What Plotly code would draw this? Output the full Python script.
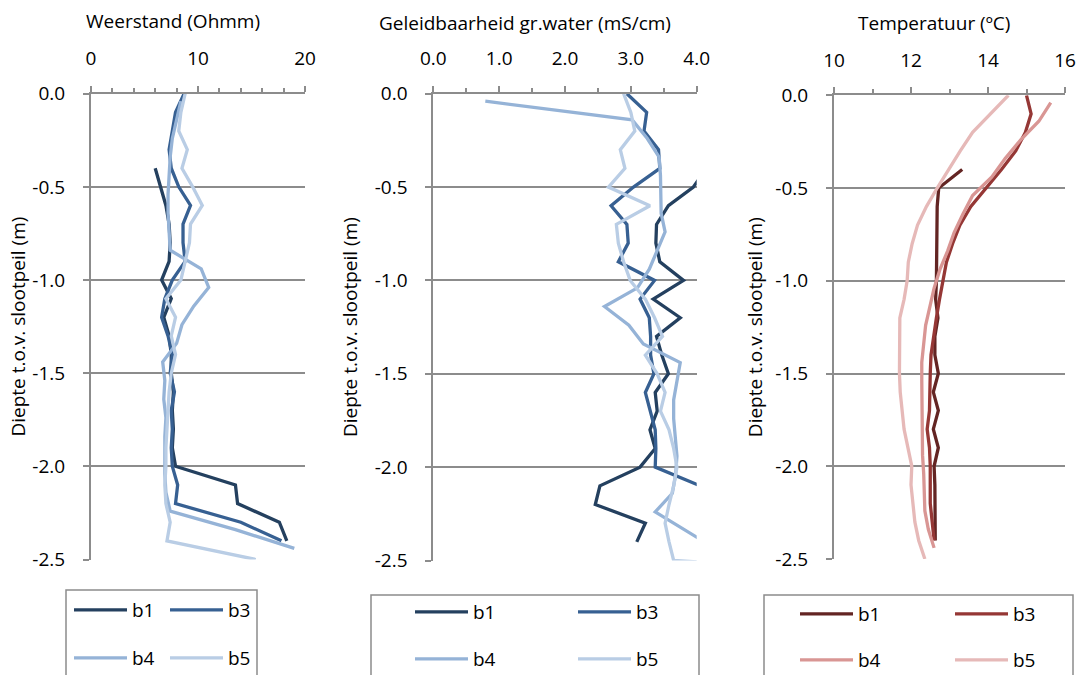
import plotly.graph_objects as go

# ---------------- data ----------------
DEPTH_B1 = [-0.4, -0.5, -0.6, -0.7, -0.8, -0.9, -1.0, -1.1, -1.2, -1.3, -1.4, -1.5, -1.6,
            -1.7, -1.8, -1.9, -2.0, -2.1, -2.2, -2.3, -2.4]
DEPTH_B3 = [0.0, -0.1, -0.2, -0.3, -0.4, -0.5, -0.6, -0.7, -0.8, -0.9, -1.0, -1.1, -1.2,
            -1.3, -1.4, -1.5, -1.6, -1.7, -1.8, -1.9, -2.0, -2.1, -2.2, -2.3, -2.4]
DEPTH_B4 = [-0.04, -0.14, -0.24, -0.34, -0.44, -0.54, -0.64, -0.74, -0.84, -0.94, -1.04,
            -1.14, -1.24, -1.34, -1.44, -1.54, -1.64, -1.74, -1.84, -1.94, -2.04, -2.14,
            -2.24, -2.34, -2.44]
DEPTH_B5 = [0.0, -0.1, -0.2, -0.3, -0.4, -0.5, -0.6, -0.7, -0.8, -0.9, -1.0, -1.1, -1.2,
            -1.3, -1.4, -1.5, -1.6, -1.7, -1.8, -1.9, -2.0, -2.1, -2.2, -2.3, -2.4, -2.5]
DEPTH_B5_GELEID = [0.0, -0.1, -0.2, -0.3, -0.4, -0.5, -0.6, -0.7, -0.8, -0.9, -1.0, -1.1,
                   -1.2, -1.3, -1.4, -1.5, -1.6, -1.7, -1.8, -1.9, -2.0, -2.1, -2.2, -2.3,
                   -2.4, -2.5, -2.52]

WEERSTAND_B1 = [6.0, 6.5, 7.0, 7.3, 7.4, 7.3, 6.6, 7.5, 6.8, 7.3, 7.5, 7.5, 7.7, 7.6, 7.7,
                7.6, 7.9, 13.5, 13.7, 17.6, 18.3]
WEERSTAND_B3 = [8.7, 7.9, 7.6, 7.3, 7.5, 8.2, 9.3, 8.6, 8.6, 8.8, 7.6, 6.9, 6.6, 7.2, 7.6,
                7.4, 7.8, 7.5, 7.6, 7.5, 7.6, 8.1, 7.9, 14.0, 17.8]
WEERSTAND_B4 = [8.4, 8.0, 7.6, 7.4, 7.3, 7.2, 7.2, 7.3, 7.4, 10.3, 11.0, 9.6, 8.5, 8.0, 6.7,
                6.9, 6.8, 7.0, 6.9, 6.9, 6.9, 7.0, 7.4, 13.5, 19.0]
WEERSTAND_B5 = [8.8, 8.4, 8.2, 9.0, 8.5, 9.5, 10.4, 9.3, 9.2, 8.8, 8.4, 7.0, 7.9, 7.5, 7.9,
                7.5, 7.3, 7.2, 7.1, 7.0, 7.0, 6.9, 7.0, 7.4, 7.1, 15.4]

GELEID_B1 = [4.15, 3.95, 3.57, 3.39, 3.38, 3.44, 3.8, 3.34, 3.75, 3.39, 3.47, 3.57, 3.37,
             3.4, 3.29, 3.37, 3.14, 2.53, 2.46, 3.22, 3.09]
GELEID_B3 = [2.94, 3.24, 3.2, 3.42, 3.44, 3.04, 2.7, 2.94, 2.96, 2.81, 3.36, 3.14, 3.28,
             3.3, 3.3, 3.35, 3.22, 3.3, 3.37, 3.38, 3.37, 4.05, 4.4, 4.5, 4.6]
GELEID_B4 = [0.79, 3.02, 3.25, 3.43, 3.45, 3.46, 3.46, 3.52, 3.4, 3.28, 3.1, 2.6, 2.97,
             3.19, 3.75, 3.7, 3.65, 3.65, 3.67, 3.7, 3.68, 3.63, 3.37, 3.85, 4.3]
GELEID_B5 = [2.89, 3.0, 3.06, 2.84, 2.91, 2.66, 3.29, 2.78, 2.81, 2.89, 2.99, 3.22, 3.36,
             3.48, 3.22, 3.4, 3.52, 3.45, 3.58, 3.65, 3.7, 3.65, 3.58, 3.52, 3.58, 3.65, 4.6]

TEMP_B1 = [13.33, 12.72, 12.68, 12.68, 12.68, 12.68, 12.66, 12.64, 12.7, 12.62, 12.62, 12.71,
           12.58, 12.71, 12.58, 12.71, 12.6, 12.62, 12.62, 12.62, 12.63]
TEMP_B3 = [15.0, 15.12, 14.97, 14.72, 14.35, 13.95, 13.55, 13.27, 13.08, 12.92, 12.82, 12.74,
           12.66, 12.58, 12.52, 12.5, 12.49, 12.48, 12.42, 12.48, 12.5, 12.5, 12.5, 12.55, 12.6]
TEMP_B4 = [15.63, 15.32, 14.85, 14.45, 14.1, 13.6, 13.35, 13.12, 12.95, 12.75, 12.6, 12.5,
           12.38, 12.33, 12.28, 12.28, 12.28, 12.28, 12.28, 12.3, 12.33, 12.35, 12.36, 12.45, 12.6]
TEMP_B5 = [14.53, 14.05, 13.6, 13.28, 12.97, 12.68, 12.4, 12.17, 12.03, 11.93, 11.9, 11.82,
           11.71, 11.7, 11.7, 11.7, 11.72, 11.78, 11.82, 11.92, 12.02, 12.0, 12.05, 12.1,
           12.2, 12.36]

SERIES_NAMES = ["b1", "b3", "b4", "b5"]
PANEL_TITLES = ["Weerstand (Ohmm)", "Geleidbaarheid gr.water (mS/cm)", "Temperatuur (ºC)"]
Y_TITLE = "Diepte t.o.v. slootpeil (m)"
Y_TICKS = [0.0, -0.5, -1.0, -1.5, -2.0, -2.5]
Y_TICK_TEXT = ["0.0", "-0.5", "-1.0", "-1.5", "-2.0", "-2.5"]
X_TICKS_1 = [0, 10, 20]
X_TICKS_2 = [0.0, 1.0, 2.0, 3.0, 4.0]
X_TICK_TEXT_2 = ["0.0", "1.0", "2.0", "3.0", "4.0"]
X_TICKS_3 = [10, 12, 14, 16]

# ---------------- style ----------------
W, H = 1088, 675
FONT = "Open Sans"
FS = 19
GRAY = "#8C8C8C"
BLUES = ["#24405F", "#376092", "#95B3D7", "#B9CDE5"]
REDS = ["#632523", "#953735", "#D99694", "#E6B9B8"]
LW = 3.3


def px_x(x):
    return x / W


def px_y(y):
    return 1 - y / H


fig = go.Figure()

panels = [
    ("x", "y", [WEERSTAND_B1, WEERSTAND_B3, WEERSTAND_B4, WEERSTAND_B5],
     [DEPTH_B1, DEPTH_B3, DEPTH_B4, DEPTH_B5], BLUES),
    ("x2", "y2", [GELEID_B1, GELEID_B3, GELEID_B4, GELEID_B5],
     [DEPTH_B1, DEPTH_B3, DEPTH_B4, DEPTH_B5_GELEID], BLUES),
    ("x3", "y3", [TEMP_B1, TEMP_B3, TEMP_B4, TEMP_B5],
     [DEPTH_B1, DEPTH_B3, DEPTH_B4, DEPTH_B5], REDS),
]

for p, (xa, ya, vals, depths, cols) in enumerate(panels):
    for i, name in enumerate(SERIES_NAMES):
        leg_idx = 2 * p + (1 if i < 2 else 2)
        leg = "legend" if leg_idx == 1 else f"legend{leg_idx}"
        fig.add_trace(go.Scatter(
            x=vals[i], y=depths[i], name=name, mode="lines",
            line=dict(color=cols[i], width=LW),
            xaxis=xa, yaxis=ya, legend=leg, hoverinfo="skip",
        ))

# plot areas in pixels: (left, right, top, bottom)
areas = [(91, 305, 93.7, 559.5), (433.3, 696.7, 93.7, 560.5), (834, 1065, 95.3, 559.0)]
xranges = [[0, 20], [0, 4], [10, 16]]
xticks = [(X_TICKS_1, [str(v) for v in X_TICKS_1], 2),
          (X_TICKS_2, X_TICK_TEXT_2, 0.5),
          (X_TICKS_3, [str(v) for v in X_TICKS_3], 1)]

tickfont = dict(family=FONT, size=FS, color="#000000")
for p in range(3):
    l, r, t, b = areas[p]
    sx = "" if p == 0 else str(p + 1)
    tv, tt, minor_dt = xticks[p]
    fig.update_layout(**{
        f"xaxis{sx}": dict(
            domain=[px_x(l), px_x(r)], anchor=f"y{sx}", side="top",
            range=xranges[p], tickvals=tv, ticktext=tt,
            ticks="outside", ticklen=6, tickwidth=2, tickcolor=GRAY,
            minor=dict(dtick=minor_dt, tick0=0, ticks="outside", ticklen=4,
                       tickwidth=2, tickcolor=GRAY, showgrid=False),
            showline=True, linecolor=GRAY, linewidth=2,
            showgrid=False, zeroline=False, tickfont=tickfont,
            ticklabelstandoff=13, fixedrange=True, automargin=False,
        ),
        f"yaxis{sx}": dict(
            domain=[px_y(b), px_y(t)], anchor=f"x{sx}",
            range=[-2.5, 0], tickvals=Y_TICKS, ticktext=Y_TICK_TEXT,
            ticks="outside", ticklen=6, tickwidth=2, tickcolor=GRAY,
            showline=True, linecolor=GRAY, linewidth=2,
            showgrid=True, gridcolor=GRAY, gridwidth=2, zeroline=False,
            tickfont=tickfont, ticklabelstandoff=14, fixedrange=True, automargin=False,
        ),
    })

# titles
title_centers = [(173, 21), (525, 23), (934, 23)]
for p, (cx, cy) in enumerate(title_centers):
    fig.add_annotation(text=PANEL_TITLES[p], x=px_x(cx), y=px_y(cy), xref="paper",
                       yref="paper", xanchor="center", yanchor="middle", showarrow=False,
                       font=dict(family=FONT, size=FS, color="#000000"))
ytitle_x = [18, 350, 755]
for p in range(3):
    l, r, t, b = areas[p]
    fig.add_annotation(text=Y_TITLE, x=px_x(ytitle_x[p]), y=px_y((t + b) / 2),
                       xref="paper", yref="paper", xanchor="center", yanchor="middle",
                       textangle=-90, showarrow=False,
                       font=dict(family=FONT, size=FS, color="#000000"))

# legend boxes
boxes = [(66, 257, 590), (371, 699, 595), (764, 1073, 595)]
for (x0, x1, y0) in boxes:
    fig.add_shape(type="rect", xref="paper", yref="paper", x0=px_x(x0), x1=px_x(x1),
                  y0=px_y(H + 20), y1=px_y(y0), line=dict(color=GRAY, width=1.5),
                  fillcolor="rgba(0,0,0,0)", layer="below")

# legends: (left px of first line sample, row1 y, row2 y, entrywidth)
leg_specs = [(74, 610, 658, 28), (415, 612, 659, 95), (800, 614, 660, 87)]
legends = {}
for p, (lx, y1, y2, ew) in enumerate(leg_specs):
    for row, yy in enumerate([y1, y2]):
        idx = 2 * p + row + 1
        key = "legend" if idx == 1 else f"legend{idx}"
        legends[key] = dict(
            orientation="h", x=px_x(lx - 5), y=px_y(yy), xanchor="left",
            yanchor="middle", bgcolor="rgba(0,0,0,0)", borderwidth=0,
            font=dict(family=FONT, size=FS, color="#000000"),
            itemwidth=53, entrywidth=ew, entrywidthmode="pixels",
            traceorder="normal", itemclick=False, itemdoubleclick=False,
        )

fig.update_layout(
    width=W, height=H, margin=dict(l=0, r=0, t=0, b=0, pad=0, autoexpand=False),
    paper_bgcolor="white", plot_bgcolor="white", showlegend=True,
    **legends,
)

fig.write_html(
    "out.html",
    config={"displayModeBar": False, "staticPlot": False},
    post_script="document.body.style.margin='0px';document.body.style.overflow='hidden';",
)
